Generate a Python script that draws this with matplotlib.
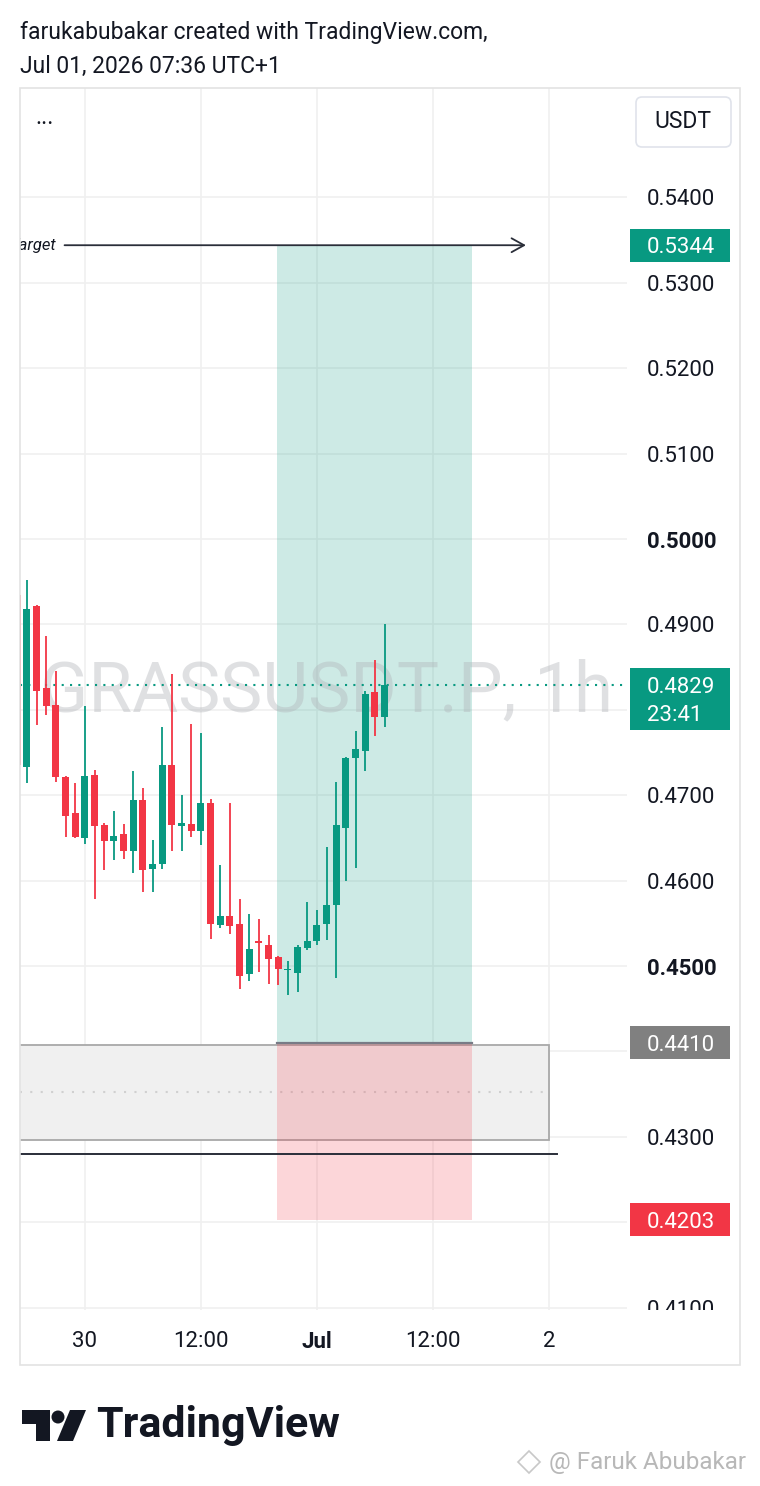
import matplotlib
matplotlib.use("Agg")
import matplotlib.pyplot as plt
from matplotlib.patches import Rectangle, FancyBboxPatch, Polygon, Circle
from matplotlib.transforms import Affine2D

plt.rcParams['font.family'] = ['Roboto', 'DejaVu Sans']

# 1h candles, x = hours from Jun 30 00:00
hours = list(range(-7, 32))
opens = [0.4934, 0.4733, 0.4921, 0.4826, 0.4806, 0.4721, 0.4679, 0.4650, 0.4724, 0.4665,
         0.4646, 0.4655, 0.4635, 0.4694, 0.4614, 0.4619, 0.4735, 0.4664, 0.4666, 0.4658,
         0.4691, 0.4548, 0.4559, 0.4549, 0.4491, 0.4529, 0.4525, 0.4511, 0.4495, 0.4492,
         0.4521, 0.4529, 0.4549, 0.4571, 0.4662, 0.4744, 0.4752, 0.4821, 0.4792]
highs = [0.4936, 0.4952, 0.4923, 0.4886, 0.4845, 0.4722, 0.4714, 0.4804, 0.4730, 0.4668,
         0.4681, 0.4666, 0.4728, 0.4708, 0.4648, 0.4780, 0.4842, 0.4700, 0.4783, 0.4773,
         0.4695, 0.4618, 0.4691, 0.4579, 0.4561, 0.4555, 0.4536, 0.4512, 0.4506, 0.4525,
         0.4575, 0.4565, 0.4639, 0.4715, 0.4745, 0.4775, 0.4822, 0.4858, 0.4901]
lows = [0.4728, 0.4714, 0.4782, 0.4794, 0.4715, 0.4651, 0.4650, 0.4643, 0.4578, 0.4612,
        0.4624, 0.4625, 0.4609, 0.4587, 0.4587, 0.4614, 0.4635, 0.4635, 0.4651, 0.4642,
        0.4532, 0.4544, 0.4537, 0.4473, 0.4482, 0.4493, 0.4479, 0.4478, 0.4466, 0.4469,
        0.4519, 0.4525, 0.4530, 0.4486, 0.4599, 0.4615, 0.4728, 0.4769, 0.4780]
closes = [0.4735, 0.4918, 0.4822, 0.4805, 0.4721, 0.4676, 0.4651, 0.4723, 0.4664, 0.4646,
          0.4652, 0.4635, 0.4694, 0.4612, 0.4620, 0.4735, 0.4665, 0.4668, 0.4658, 0.4691,
          0.4549, 0.4559, 0.4547, 0.4488, 0.4520, 0.4527, 0.4508, 0.4496, 0.4497, 0.4522,
          0.4529, 0.4548, 0.4571, 0.4665, 0.4744, 0.4754, 0.4818, 0.4792, 0.4829]

price_ticks = [0.41, 0.42, 0.43, 0.44, 0.45, 0.46, 0.47, 0.48, 0.49, 0.50, 0.51, 0.52, 0.53, 0.54]
hidden_ticks = [0.44, 0.48]  # covered by the price labels
time_ticks = [0, 12, 24, 36, 48]
time_labels = ['30', '12:00', 'Jul', '12:00', '2']

# drawings
target = 0.5344
entry = 0.4410
stop = 0.4203
last_price = 0.4829
countdown = '23:41'
zone_top = 0.4408
zone_bottom = 0.4296
support = 0.4280

GREEN = '#089981'
RED = '#f23645'
TXT = '#131722'

W, H = 760, 1486
fig = plt.figure(figsize=(W / 100, H / 100), dpi=100, facecolor='white')
# pixel coords measured from top-left of the figure
px = Affine2D().scale(1 / W, -1 / H).translate(0, 1) + fig.transFigure

ylo, yhi = 0.40972, 0.55281
ax = fig.add_axes([20 / W, 1 - 1310 / H, 607 / W, 1222 / H])
ax.set_xlim(-6.72, 56.07)
ax.set_ylim(ylo, yhi)
for s in ax.spines.values():
    s.set_visible(False)
ax.set_yticks(price_ticks)
ax.set_xticks(time_ticks)
ax.set_xticklabels(time_labels, fontsize=16, color=TXT)
ax.get_xticklabels()[2].set_fontweight('bold')
ax.tick_params(axis='y', left=False, labelleft=False)
ax.tick_params(axis='x', length=0, pad=15)
ax.grid(True, color='#f0f0f0', lw=1.2, zorder=0)
ax.set_axisbelow(True)

# grey zone with dotted midline
ax.add_patch(Rectangle((-10, zone_bottom), 58, zone_top - zone_bottom, facecolor='#f0f0f0',
                       edgecolor='#a8a8a8', lw=1.3, zorder=1))
ax.plot([-10, 48], [(zone_top + zone_bottom) / 2] * 2, color='#d0d0d0', lw=1.5,
        ls=(0, (1, 4)), zorder=1)
ax.plot([-10, 48.8], [support, support], color='#2a2e39', lw=1.4, zorder=2)

# long position tool
ax.add_patch(Rectangle((19.85, entry), 40 - 19.85, target - entry, facecolor=GREEN,
                       alpha=0.2, lw=0, zorder=1.5))
ax.add_patch(Rectangle((19.85, stop), 40 - 19.85, entry - stop, facecolor=RED,
                       alpha=0.2, lw=0, zorder=1.5))
ax.plot([19.85, 40], [entry, entry], color='#787b86', lw=1.6, zorder=2)

# target arrow
ax.annotate('', xy=(45.9, target), xytext=(-2.4, target),
            arrowprops=dict(arrowstyle='->,head_length=0.9,head_width=0.5',
                            color='#2a2e39', lw=1.3), zorder=3)
ax.text(-2.95, target, 'Target', ha='right', va='center', fontsize=12,
        style='italic', color=TXT, clip_on=True, zorder=3)

# watermark
ax.text(25.0, 0.4821, 'GRASSUSDT.P, 1h', ha='center', va='center', fontsize=51,
        color='#b0b3b8', alpha=0.4, zorder=2)

# last price dotted line
ax.axhline(last_price, color=GREEN, lw=1.5, ls=(0, (1, 3)), zorder=2)

# candles
for h, o, hi, lo, c in zip(hours, opens, highs, lows, closes):
    col = GREEN if c >= o else RED
    ax.vlines(h, lo, hi, color=col, lw=1.3, zorder=3)
    body = max(abs(c - o), 0.00012)
    ax.bar(h, body, bottom=min(o, c), width=0.72, color=col, lw=0, zorder=4)

# price scale
ppx = 1 / 8540  # price per pixel
shift = -2.5 * ppx  # small optical offset for label centring
pax = fig.add_axes([627 / W, 1 - 1310 / H, 113 / W, 1222 / H])
pax.set_xlim(0, 113)
pax.set_ylim(ylo, yhi)
pax.axis('off')
for p in price_ticks:
    if any(abs(p - q) < 1e-9 for q in hidden_ticks):
        continue
    bold = abs(p - 0.50) < 1e-9 or abs(p - 0.45) < 1e-9
    pax.text(20, p + shift, f'{p:.4f}', ha='left', va='center', fontsize=16, color=TXT,
             fontweight='bold' if bold else 'normal', clip_on=True)

def price_box(price, color, text, h_px=33, top_off=None):
    top = price + (h_px / 2 if top_off is None else top_off) * ppx
    pax.add_patch(FancyBboxPatch((3, top - h_px * ppx), 100, h_px * ppx,
                                 boxstyle='square,pad=0', facecolor=color, lw=0, zorder=5))
    pax.text(20, price + shift, text, ha='left', va='center', fontsize=16, color='white', zorder=6)

price_box(target, GREEN, f'{target:.4f}')
price_box(entry, '#808080', f'{entry:.4f}')
price_box(stop, RED, f'{stop:.4f}')
price_box(last_price, GREEN, f'{last_price:.4f}', h_px=62, top_off=17)
pax.text(20, last_price - 28 * ppx + shift, countdown, ha='left', va='center', fontsize=16,
         color='white', zorder=6)

# outer frame
fig.add_artist(Rectangle((20, 88), 720, 1277, transform=px, fill=False,
                         edgecolor='#e3e3e3', lw=1.2))

# USDT button and menu dots
fig.add_artist(FancyBboxPatch((636, 97), 95, 50, boxstyle='round,pad=0,rounding_size=6',
                              transform=px, facecolor='white', edgecolor='#e0e3eb', lw=1.2))
fig.text(683, 122, 'USDT', transform=px, ha='center', va='center', fontsize=16.5, color=TXT)
fig.text(45, 118, '...', transform=px, ha='center', va='center', fontsize=17, color=TXT)

# header
fig.text(20, 32, 'farukabubakar created with TradingView.com,', transform=px,
         ha='left', va='center', fontsize=16.5, color=TXT)
fig.text(20, 66, 'Jul 01, 2026 07:36 UTC+1', transform=px,
         ha='left', va='center', fontsize=16.5, color=TXT)

# TradingView logo
fig.add_artist(Polygon([(22, 1410), (50, 1410), (50, 1441), (36, 1441), (36, 1424), (22, 1424)],
                       closed=True, transform=px, facecolor='#131722', lw=0))
fig.add_artist(Circle((58, 1417), 6.5, transform=px, facecolor='#131722', lw=0))
fig.add_artist(Polygon([(70, 1410), (86, 1410), (73, 1441), (57, 1441)], closed=True,
                       transform=px, facecolor='#131722', lw=0))
fig.text(96, 1426, 'TradingView', transform=px, ha='left', va='center', fontsize=31,
         fontweight='bold', color='#131722')

# bottom-right watermark
fig.add_artist(Polygon([(529, 1451), (540, 1462), (529, 1473), (518, 1462)], closed=True,
                       transform=px, fill=False, edgecolor='#c8c8c8', lw=1.2))
fig.text(549, 1462, '@ Faruk Abubakar', transform=px, ha='left', va='center', fontsize=17.5,
         color='#b8b8b8')

fig.savefig('out.png', dpi=100, facecolor='white')
